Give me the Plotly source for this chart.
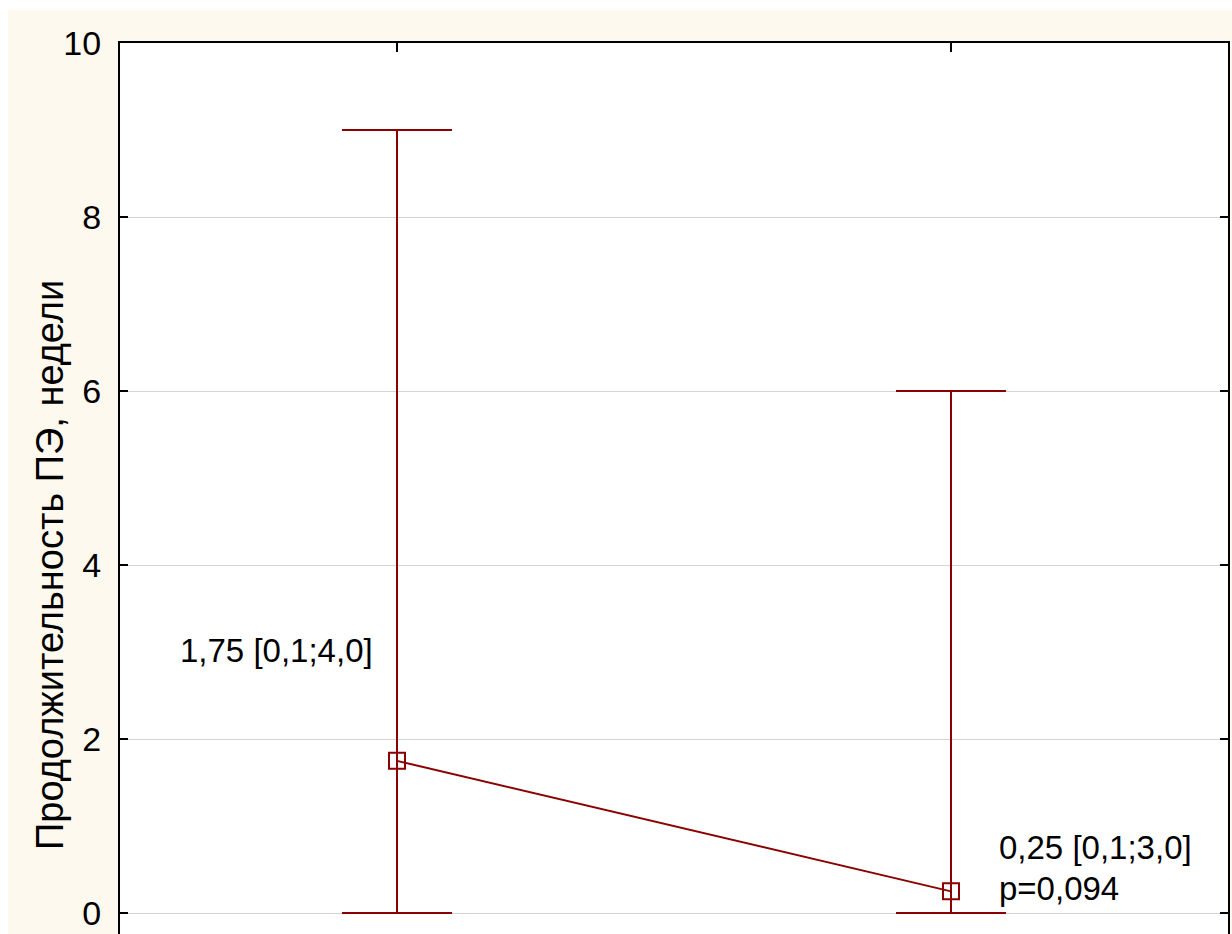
import plotly.graph_objects as go

# Data
groups = [0, 1]
medians = [1.75, 0.25]
lower = [0.0, 0.0]
upper = [9.0, 6.0]
label_texts = ["1,75 [0,1;4,0]", "0,25 [0,1;3,0]", "p=0,094"]
y_title = "Продолжительность ПЭ, недели"
y_ticks = [0, 2, 4, 6, 8, 10]

RED = "#8B0000"
CREAM = "#FEF9EE"
NARROW = "'Liberation Sans Narrow', 'Arial Narrow', 'Liberation Sans', Arial, sans-serif"
REG = "'Liberation Sans', Arial, sans-serif"

err_plus = [u - m for u, m in zip(upper, medians)]
err_minus = [m - l for m, l in zip(medians, lower)]

fig = go.Figure()
fig.add_trace(go.Scatter(
    x=groups, y=medians, mode="lines+markers",
    line=dict(color=RED, width=2),
    marker=dict(symbol="square-open", size=16, color=RED, line=dict(width=2, color=RED)),
    error_y=dict(type="data", symmetric=False, array=err_plus, arrayminus=err_minus,
                 color=RED, thickness=2, width=55),
    showlegend=False, hoverinfo="skip",
))

W, H = 1232, 934
ml, mr, mt, mb = 120, 4, 43, 0
pw, ph = W - ml - mr, H - mt - mb

fig.update_layout(
    width=W, height=H,
    margin=dict(l=ml, r=mr, t=mt, b=mb, pad=0),
    paper_bgcolor=CREAM, plot_bgcolor="white",
    xaxis=dict(range=[-0.5, 1.5], side="top", showline=True, linecolor="black", linewidth=2,
               ticks="inside", ticklen=9, tickwidth=2, tickcolor="black",
               tickvals=groups, showticklabels=False, showgrid=False, zeroline=False),
    yaxis=dict(range=[-0.24, 10], showline=True, mirror="ticks", linecolor="black", linewidth=2,
               ticks="inside", ticklen=8, tickwidth=2, tickcolor="black",
               tickvals=y_ticks, ticktext=[str(v) for v in y_ticks],
               tickfont=dict(family=NARROW, size=34, color="black"),
               ticklabelstandoff=10,
               showgrid=True, gridcolor="#D4D4D4", gridwidth=1, zeroline=False),
    shapes=[
        dict(type="rect", xref="paper", yref="paper", layer="above",
             x0=-ml / pw - 0.01, x1=-(ml - 8) / pw, y0=-0.05, y1=1 + mt / ph + 0.01,
             fillcolor="white", line=dict(width=0)),
        dict(type="rect", xref="paper", yref="paper", layer="above",
             x0=-ml / pw - 0.01, x1=1 + mr / pw + 0.01, y0=1 + (mt - 10) / ph, y1=1 + mt / ph + 0.01,
             fillcolor="white", line=dict(width=0)),
    ],
    annotations=[
        dict(text=y_title, textangle=-90, xref="paper", yref="y", x=-(ml - 50) / pw, y=4.0,
             showarrow=False, xanchor="center", yanchor="middle",
             font=dict(family=REG, size=38, color="black")),
        dict(text=label_texts[0], xref="x", yref="y", x=-0.395, y=3.02, showarrow=False,
             xanchor="left", yanchor="middle", font=dict(family=NARROW, size=33, color="black")),
        dict(text=label_texts[1], xref="x", yref="y", x=1.083, y=0.75, showarrow=False,
             xanchor="left", yanchor="middle", font=dict(family=NARROW, size=33, color="black")),
        dict(text=label_texts[2], xref="x", yref="y", x=1.083, y=0.28, showarrow=False,
             xanchor="left", yanchor="middle", font=dict(family=NARROW, size=33, color="black")),
    ],
)

fig.write_html("out.html")
